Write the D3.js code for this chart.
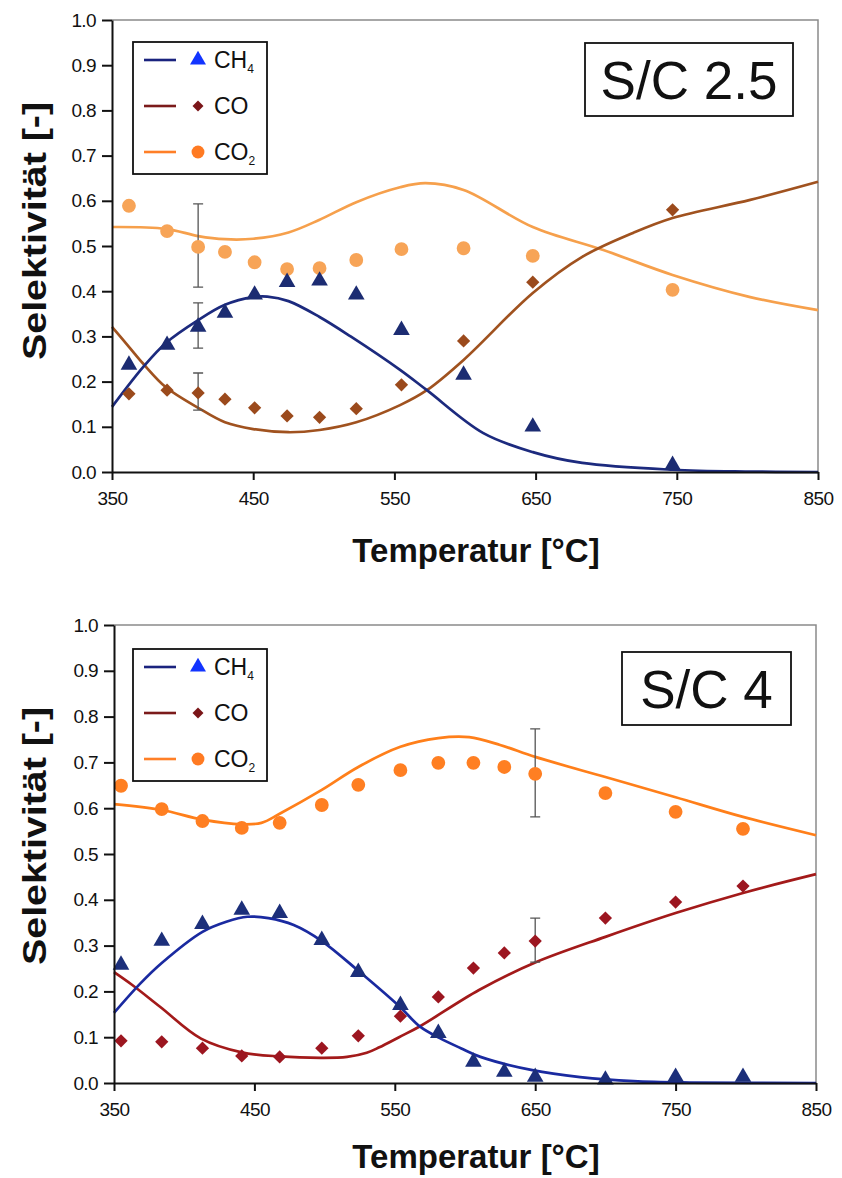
<!DOCTYPE html>
<html lang="de">
<head>
<meta charset="UTF-8">
<script src="https://d3js.org/d3.v7.min.js"></script>
<title>Selektivität S/C 2.5 und S/C 4</title>
<style>
  body { margin: 0; background: #fff; overflow: hidden; }
  text { font-family: "Liberation Sans", Arial, sans-serif; fill: #111; }
  .tick text { font-size: 19px; letter-spacing: -0.6px; }
  .axis path, .axis line { stroke: #111; stroke-width: 2px; }
  .title { font-weight: bold; font-size: 33px; }
  .frame { fill: none; stroke: #8a8a8a; stroke-width: 1.5px; }
  .model { fill: none; stroke-width: 2.7px; }
  .err { stroke: #555; stroke-width: 1.3px; fill: none; }
  .box { fill: #fff; stroke: #111; stroke-width: 1.8px; }
</style>
</head>
<body>
<script>
const xTicks = [350, 450, 550, 650, 750, 850];
const yTicks = [0, 0.1, 0.2, 0.3, 0.4, 0.5, 0.6, 0.7, 0.8, 0.9, 1.0];

// S/C 2.5 - Messpunkte
const t25 = [362, 389, 411, 430, 451, 474, 497, 523, 555, 599, 648, 747];
const ch4_25 = [0.237, 0.281, 0.321, 0.352, 0.392, 0.42, 0.423, 0.392, 0.314, 0.215, 0.10, 0.015];
const co_25 = [0.173, 0.181, 0.175, 0.161, 0.142, 0.124, 0.121, 0.14, 0.193, 0.29, 0.42, 0.58];
const co2_25 = [0.589, 0.533, 0.498, 0.487, 0.464, 0.449, 0.451, 0.469, 0.493, 0.495, 0.478, 0.403];
// S/C 2.5 - Modell
const mCh4T_25 = [350, 372, 388, 411, 430, 450, 460, 475, 497, 519, 554, 573, 613, 648, 683, 747, 800, 850];
const mCh4_25 = [0.144, 0.232, 0.285, 0.336, 0.37, 0.387, 0.388, 0.378, 0.343, 0.30, 0.226, 0.181, 0.086, 0.044, 0.02, 0.005, 0.001, 0];
const mCoT_25 = [350, 362, 372, 388, 411, 430, 450, 475, 497, 523, 554, 573, 599, 648, 683, 719, 747, 802, 850];
const mCo_25 = [0.321, 0.277, 0.24, 0.188, 0.142, 0.11, 0.095, 0.088, 0.093, 0.11, 0.148, 0.181, 0.248, 0.396, 0.476, 0.529, 0.562, 0.602, 0.642];
const mCo2T_25 = [350, 388, 411, 430, 450, 475, 497, 523, 554, 572, 599, 648, 698, 747, 802, 850];
const mCo2_25 = [0.542, 0.538, 0.522, 0.515, 0.516, 0.53, 0.558, 0.597, 0.63, 0.639, 0.624, 0.542, 0.491, 0.436, 0.387, 0.358];
// Fehlerbalken S/C 2.5 bei 411 °C
const err25 = [{t: 411, lo: 0.409, hi: 0.593}, {t: 411, lo: 0.274, hi: 0.374}, {t: 411, lo: 0.137, hi: 0.219}];

// S/C 4 - Messpunkte
const t4 = [355, 384, 413, 441, 468, 498, 524, 554, 581, 606, 628, 650, 700, 750, 798];
const ch4_4 = [0.258, 0.31, 0.347, 0.378, 0.371, 0.312, 0.242, 0.17, 0.109, 0.046, 0.024, 0.013, 0.007, 0.013, 0.013];
const co_4 = [0.092, 0.09, 0.076, 0.059, 0.057, 0.076, 0.103, 0.146, 0.188, 0.251, 0.284, 0.31, 0.36, 0.395, 0.43];
const co2_4 = [0.649, 0.598, 0.572, 0.557, 0.568, 0.607, 0.651, 0.683, 0.699, 0.699, 0.69, 0.675, 0.633, 0.592, 0.555];
// S/C 4 - Modell
const mCh4T_4 = [350, 369, 384, 413, 430, 445, 460, 478, 498, 524, 553, 568, 582, 597, 611, 648, 682, 720, 760, 850];
const mCh4_4 = [0.153, 0.218, 0.262, 0.33, 0.352, 0.363, 0.36, 0.345, 0.31, 0.245, 0.168, 0.123, 0.098, 0.076, 0.057, 0.028, 0.013, 0.004, 0.001, 0];
const mCoT_4 = [350, 363, 383, 412, 441, 468, 498, 516, 530, 539, 553, 568, 610, 650, 700, 750, 798, 850];
const mCo_4 = [0.242, 0.214, 0.166, 0.097, 0.067, 0.058, 0.055, 0.057, 0.066, 0.078, 0.1, 0.124, 0.203, 0.263, 0.319, 0.371, 0.415, 0.456];
const mCo2T_4 = [350, 384, 413, 441, 455, 468, 498, 524, 554, 581, 603, 625, 650, 700, 750, 798, 850];
const mCo2_4 = [0.609, 0.596, 0.575, 0.565, 0.568, 0.588, 0.64, 0.69, 0.734, 0.753, 0.755, 0.738, 0.712, 0.668, 0.624, 0.581, 0.541];
// Fehlerbalken S/C 4 bei 650 °C
const err4 = [{t: 650, lo: 0.581, hi: 0.773}, {t: 650, lo: 0.264, hi: 0.36}];

const svg = d3.select("body").append("svg")
  .attr("width", 842).attr("height", 1178)
  .style("display", "block");

function zip(a, b) { return a.map((d, i) => [d, b[i]]); }

function panel(p) {
  const x = d3.scaleLinear().domain([350, 850]).range([p.x0, p.x1]);
  const y = d3.scaleLinear().domain([0, 1]).range([p.y0, p.y1]);
  const g = svg.append("g");

  // grauer Rahmen oben / rechts
  g.append("path").attr("class", "frame")
    .attr("d", `M${p.x0},${p.y1}H${p.x1}V${p.y0}`);

  const line = d3.line().x(d => x(d[0])).y(d => y(d[1])).curve(d3.curveCatmullRom.alpha(0.5));
  p.models.forEach(m => {
    g.append("path").attr("class", "model").attr("stroke", m.color)
      .attr("d", line(zip(m.t, m.v)));
  });

  // Fehlerbalken
  p.err.forEach(e => {
    const cx = x(e.t);
    g.append("path").attr("class", "err")
      .attr("d", `M${cx},${y(e.lo)}V${y(e.hi)}M${cx - 5},${y(e.lo)}h10M${cx - 5},${y(e.hi)}h10`);
  });

  // Messpunkte
  p.points.forEach(s => {
    g.selectAll(null).data(zip(p.t, s.v)).enter().append("path")
      .attr("transform", d => `translate(${x(d[0])},${y(d[1])})` + (s.rot ? " rotate(45)" : ""))
      .attr("d", d3.symbol().type(s.type).size(s.size))
      .attr("fill", s.color);
  });

  g.append("g").attr("class", "axis")
    .attr("transform", `translate(0,${p.y0})`)
    .call(d3.axisBottom(x).tickValues(xTicks).tickSize(8).tickSizeOuter(0).tickPadding(12));
  g.append("g").attr("class", "axis")
    .attr("transform", `translate(${p.x0},0)`)
    .call(d3.axisLeft(y).tickValues(yTicks).tickFormat(d3.format(".1f")).tickSize(10).tickSizeOuter(0).tickPadding(6));
  g.selectAll(".tick text").attr("fill", "#111");

  g.append("text").attr("class", "title")
    .attr("x", 476).attr("y", p.y0 + p.xTitleDy).attr("text-anchor", "middle")
    .text("Temperatur [°C]");
  g.append("text").attr("class", "title")
    .attr("transform", `translate(46,${p.yTitle}) rotate(-90)`)
    .attr("text-anchor", "middle")
    .attr("textLength", 258).attr("lengthAdjust", "spacingAndGlyphs")
    .text("Selektivität [-]");

  // Legende
  const lg = g.append("g");
  lg.append("rect").attr("class", "box")
    .attr("x", 133).attr("y", p.lgTop).attr("width", 134).attr("height", 132);
  const names = [["CH", "4"], ["CO", ""], ["CO", "2"]];
  const sym = [d3.symbolTriangle, d3.symbolSquare, d3.symbolCircle];
  const sizes = [110, 60, 130];
  names.forEach((n, i) => {
    const ry = p.lgTop + 18 + i * 46;
    lg.append("line").attr("x1", 144).attr("x2", 176).attr("y1", ry).attr("y2", ry)
      .attr("stroke", p.legendLine[i]).attr("stroke-width", 2.6);
    lg.append("path").attr("transform", `translate(198,${ry})` + (i === 1 ? " rotate(45)" : ""))
      .attr("d", d3.symbol().type(sym[i]).size(sizes[i]))
      .attr("fill", p.legendMark[i]);
    const t = lg.append("text").attr("x", 214).attr("y", ry + 8).style("font-size", "23px").text(n[0]);
    if (n[1]) t.append("tspan").attr("dy", 5).style("font-size", "12px").text(n[1]);
  });

  // Kennzeichnung S/C
  g.append("rect").attr("class", "box")
    .attr("x", p.lab.x).attr("y", p.lab.y).attr("width", p.lab.w).attr("height", p.lab.h);
  g.append("text").attr("x", p.lab.x + p.lab.w / 2).attr("y", p.lab.y + p.lab.h / 2 + 19)
    .attr("text-anchor", "middle").style("font-size", "53px").text(p.lab.text);
}

panel({
  x0: 112, x1: 818, y0: 472, y1: 20, yTitle: 231, lgTop: 42, xTitleDy: 90,
  t: t25,
  points: [
    {v: co2_25, type: d3.symbolCircle, size: 150, color: "#f7a457"},
    {v: co_25, type: d3.symbolSquare, size: 88, color: "#9b4a1c", rot: true},
    {v: ch4_25, type: d3.symbolTriangle, size: 120, color: "#1c2c72"}
  ],
  models: [
    {t: mCo2T_25, v: mCo2_25, color: "#f6a04c"},
    {t: mCoT_25, v: mCo_25, color: "#a0521f"},
    {t: mCh4T_25, v: mCh4_25, color: "#1c2a7e"}
  ],
  err: err25,
  legendLine: ["#1a237e", "#7b1a1a", "#ff7f27"],
  legendMark: ["#1234ff", "#7a1518", "#ff7a22"],
  lab: {x: 585, y: 43, w: 208, h: 73, text: "S/C 2.5"}
});

panel({
  x0: 114, x1: 816, y0: 1083, y1: 625, yTitle: 836, lgTop: 649, xTitleDy: 85,
  t: t4,
  points: [
    {v: co2_4, type: d3.symbolCircle, size: 150, color: "#ff7f22"},
    {v: co_4, type: d3.symbolSquare, size: 88, color: "#9c1620", rot: true},
    {v: ch4_4, type: d3.symbolTriangle, size: 120, color: "#1c2f7a"}
  ],
  models: [
    {t: mCo2T_4, v: mCo2_4, color: "#ff7f1a"},
    {t: mCoT_4, v: mCo_4, color: "#a31a1a"},
    {t: mCh4T_4, v: mCh4_4, color: "#1a2aa0"}
  ],
  err: err4,
  legendLine: ["#1a237e", "#7b1a1a", "#ff7f27"],
  legendMark: ["#1234ff", "#7a1518", "#ff7a22"],
  lab: {x: 622, y: 652, w: 169, h: 73, text: "S/C 4"}
});
</script>
</body>
</html>
